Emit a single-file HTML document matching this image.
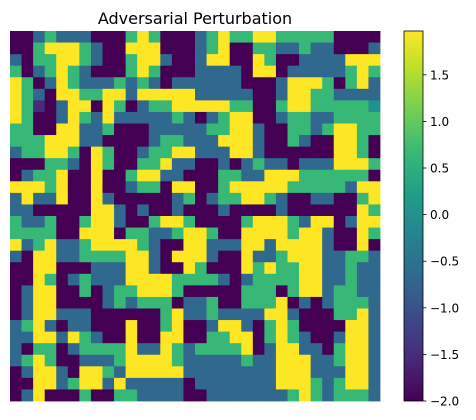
<!DOCTYPE html>
<html><head><meta charset="utf-8">
<style>
html,body{margin:0;padding:0;background:#fff;}
svg{display:block;font-family:"DejaVu Sans","Liberation Sans",sans-serif;}
</style></head>
<body>
<svg id="chart" width="476" height="420" viewBox="0 0 476 420">
<text x="195" y="24" text-anchor="middle" font-size="16" fill="#000">Adversarial Perturbation</text>
<g id="cells"></g>
<defs><linearGradient id="vir" x1="0" y1="1" x2="0" y2="0"></linearGradient></defs>
<rect id="cbar"></rect>
<g id="cticks"></g>
</svg>
<script>
// Grid rows: P=-2, B=-0.67, G=0.67, Y=1.97, I=-1.5, T=0.0
const gridRows = [
"PPBGBBBPPPGYGPPPBGYGGYYGGGGGPPPP",
"PPGYYYGBPPYYYPPPBGYPPGGBBGBBPPPB",
"BPGGYYGBPPGYYBPPBYYPPYGPPBBBBYYY",
"GPBGYGBPPPGYGPPPBBBBPYYPBBBBBGYG",
"YGPBYGBBBGBGBPBBBBBBPPPBYYYGPGYB",
"YGBPYYGGYYBYYYYYBBBBBPPBYYGGBBBB",
"YGIPBYYPYGPBGGYYYYYGGPPGYYGGGGGT",
"YGPPBYGBYBBBBBGBPBGYYPPBGGBBGGGG",
"GGPPYYBBGPPPBBBBBGGYYBPPGGBGYYGG",
"GGGYYYBBPPPPBGGBBBYYYBPPGBPPYYGP",
"BGGYYGPYGPPBGGYYBBBYYBPPPPPPYYGP",
"PPPGGBPYGPPGGYBBPPBPBGBBPBBBYYYG",
"PBGGYPPYPPGYYBBPPPGGBBYYYGGGGGGP",
"YYYGYPPYPPBGGPYYPPGYYYYYGGGGGBYY",
"BYBBYPPYBPPPPPBGPBGGYYGBPPBBPPGY",
"BBPPPPPYYBPBPPBPPPBPPPPBPPPPPPYG",
"GBBGPPGYYBPPGYYGPPPPGYYYGBYYPBYY",
"GGGGPPYYYPGGBBGYYGPPYYYYGYYBPPYG",
"YBGYBBGYYYYGBPPYYBBBYYBYYYYBPPYP",
"BPYYBBGGGGYYBPYYYBPPYBBGYYYBBGGB",
"PPYYPPPBBBYYBPPYGPPPYGYGGYYBBGBB",
"PPYGPBGBBBYYYYGGGGBPBGGGGYYBBGBB",
"PBYYPPGPBGGYYYGPPPPPGGGPGYYBGGBB",
"PBYYPPPPBGBGGGPBBGPPGGGYPBPBGGGB",
"PBYYBBBPPPPPPGYBBGBBBBYYBPPPGGYB",
"BGYBPBBPPPYPPGYPPBYYBPGYGPPPPYYB",
"BBYYBYGBPPYPPYYPPGGYYPGYGBPPBYYB",
"BPGGPBGGGGYBBYGBGGGGYPBYYBBPGYYB",
"BGYGPPBBBGYYYYGBBBBBGBBYYYBBGYYB",
"PBYYBPYYGBYYYYYBBBBBBBBYYYBBBYYB",
"PPYYBGYYBYBBBBBPBBBBBBBYYYGBGYYB",
"PBYPPPGPPGGBBBBPPBBBBBBBGYGBGGGB"
];
const levelCodes = ["P","I","B","T","G","Y"];
const levelValues = [-2.0,-1.5,-0.67,0.0,0.67,1.97];
const cbarTicks = [-2.0,-1.5,-1.0,-0.5,0.0,0.5,1.0,1.5];
const vmin = -2.0, vmax = 1.97;

const vir = ["#440154","#482878","#3e4989","#31688e","#26828e","#1f9e89","#35b779","#6ece58","#b5de2b","#fde725"];
function hex(c){return [1,3,5].map(i=>parseInt(c.substr(i,2),16));}
function viridis(t){
  t=Math.max(0,Math.min(1,t));
  const f=t*(vir.length-1), i=Math.min(vir.length-2,Math.floor(f)), r=f-i;
  const a=hex(vir[i]), b=hex(vir[i+1]);
  return "rgb("+a.map((v,k)=>Math.round(v+(b[k]-v)*r)).join(",")+")";
}
const NS="http://www.w3.org/2000/svg";
const gx0=10, gy0=31, gsize=370, n=gridRows.length;
const cw=gsize/n;
const xScale=c=>gx0+c*cw, yScale=r=>gy0+r*cw;
const cells=document.getElementById("cells");
gridRows.forEach((row,r)=>{
  for(let c=0;c<row.length;c++){
    const v=levelValues[levelCodes.indexOf(row[c])];
    const el=document.createElementNS(NS,"rect");
    el.setAttribute("x",xScale(c).toFixed(2));
    el.setAttribute("y",yScale(r).toFixed(2));
    el.setAttribute("width",(cw+0.4).toFixed(2));
    el.setAttribute("height",(cw+0.4).toFixed(2));
    el.setAttribute("fill",viridis((v-vmin)/(vmax-vmin)));
    
    
    cells.appendChild(el);
  }
});
// colorbar
const grad=document.getElementById("vir");
for(let i=0;i<=20;i++){
  const s=document.createElementNS(NS,"stop");
  s.setAttribute("offset",(i/20));
  s.setAttribute("stop-color",viridis(i/20));
  grad.appendChild(s);
}
const cbX=404, cbW=19, cbTop=31, cbBot=401;
const cbScale=v=>cbBot-(v-vmin)/(vmax-vmin)*(cbBot-cbTop);
const cb=document.getElementById("cbar");
cb.setAttribute("x",cbX);cb.setAttribute("y",cbTop);cb.setAttribute("width",cbW);cb.setAttribute("height",cbBot-cbTop);
cb.setAttribute("fill","url(#vir)");
cb.setAttribute("stroke","#000");cb.setAttribute("stroke-width","0.8");
const ct=document.getElementById("cticks");
cbarTicks.forEach(v=>{
  const y=cbScale(v);
  const l=document.createElementNS(NS,"line");
  l.setAttribute("x1",cbX+cbW);l.setAttribute("x2",cbX+cbW+3.5);
  l.setAttribute("y1",y);l.setAttribute("y2",y);
  l.setAttribute("stroke","#000");l.setAttribute("stroke-width","0.8");
  
  
  ct.appendChild(l);
  const t=document.createElementNS(NS,"text");
  t.setAttribute("x",cbX+cbW+7);t.setAttribute("y",y+4.5);
  t.setAttribute("font-size","12");t.setAttribute("fill","#000");
  t.textContent=(v<0?"\u2212":"")+Math.abs(v).toFixed(1);
  
  
  ct.appendChild(t);
});
</script>
</body></html>
